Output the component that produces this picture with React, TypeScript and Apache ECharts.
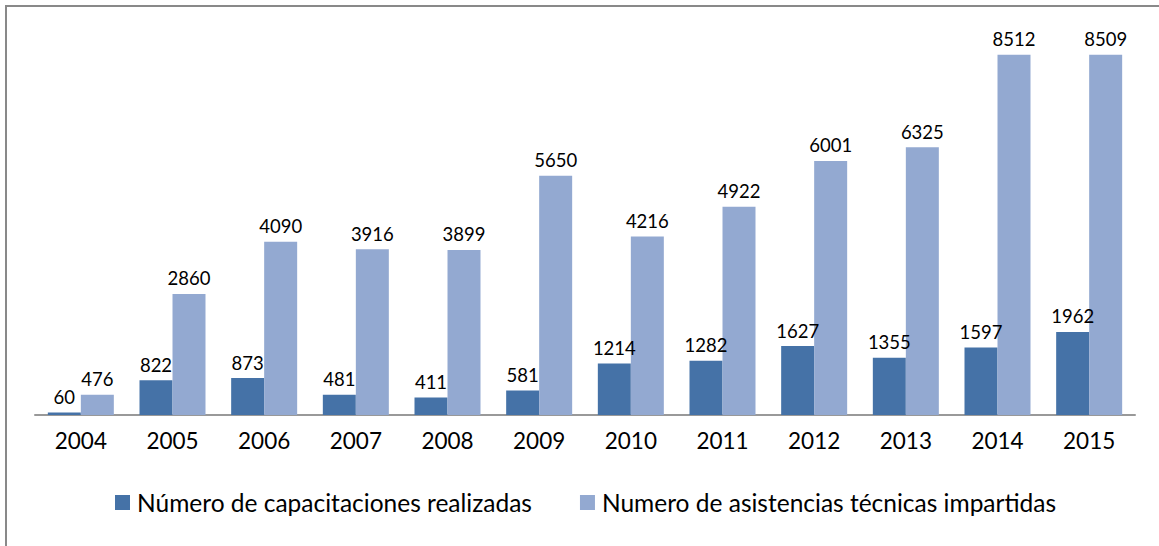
import React, { useEffect, useRef } from "react";
import * as echarts from "echarts";

const years = ["2004", "2005", "2006", "2007", "2008", "2009", "2010", "2011", "2012", "2013", "2014", "2015"];
const capacitaciones = [60, 822, 873, 481, 411, 581, 1214, 1282, 1627, 1355, 1597, 1962];
const asistencias = [476, 2860, 4090, 3916, 3899, 5650, 4216, 4922, 6001, 6325, 8512, 8509];
const seriesNames = ["Número de capacitaciones realizadas", "Numero de asistencias técnicas impartidas"];

export default function App() {
  const ref = useRef<HTMLDivElement>(null);
  useEffect(() => {
    if (!ref.current) return;
    const chart = echarts.init(ref.current, null, { renderer: "svg" });
    const font = "Lato";
    chart.setOption({
      animation: false,
      backgroundColor: "#ffffff",
      graphic: [
        {
          type: "rect",
          shape: { x: 6, y: 6, width: 1200, height: 600 },
          style: { fill: "none", stroke: "#898989", lineWidth: 2 },
          silent: true,
        },
      ],
      grid: { left: 35, right: 24, top: 34, bottom: 131 },
      legend: {
        bottom: 26,
        left: 110,
        itemWidth: 15,
        itemHeight: 15,
        itemGap: 48,
        icon: "rect",
        textStyle: { fontFamily: font, fontSize: 24.5, color: "#000", padding: [0, 0, 0, 2] },
        data: seriesNames,
      },
      xAxis: {
        type: "category",
        data: years,
        axisLine: { lineStyle: { color: "#999999", width: 2 } },
        axisTick: { show: false },
        axisLabel: { fontFamily: font, fontSize: 22.5, color: "#000", margin: 14 },
      },
      yAxis: {
        type: "value",
        min: 0,
        max: 9000,
        show: false,
        splitLine: { show: false },
      },
      series: [
        {
          name: seriesNames[0],
          type: "bar",
          data: capacitaciones,
          barWidth: 33,
          barGap: "0%",
          itemStyle: { color: "#4572A7" },
          label: { show: true, position: "top", distance: 6, fontFamily: font, fontSize: 18.5, color: "#000" },
        },
        {
          name: seriesNames[1],
          type: "bar",
          data: asistencias,
          barWidth: 33,
          barGap: "0%",
          itemStyle: { color: "#93A9D1" },
          label: { show: true, position: "top", distance: 6, fontFamily: font, fontSize: 18.5, color: "#000" },
        },
      ],
    });
    return () => chart.dispose();
  }, []);
  return (
    <div
      ref={ref}
      style={{ position: "fixed", left: 0, top: 0, width: 1159, height: 546, background: "#fff" }}
    />
  );
}
